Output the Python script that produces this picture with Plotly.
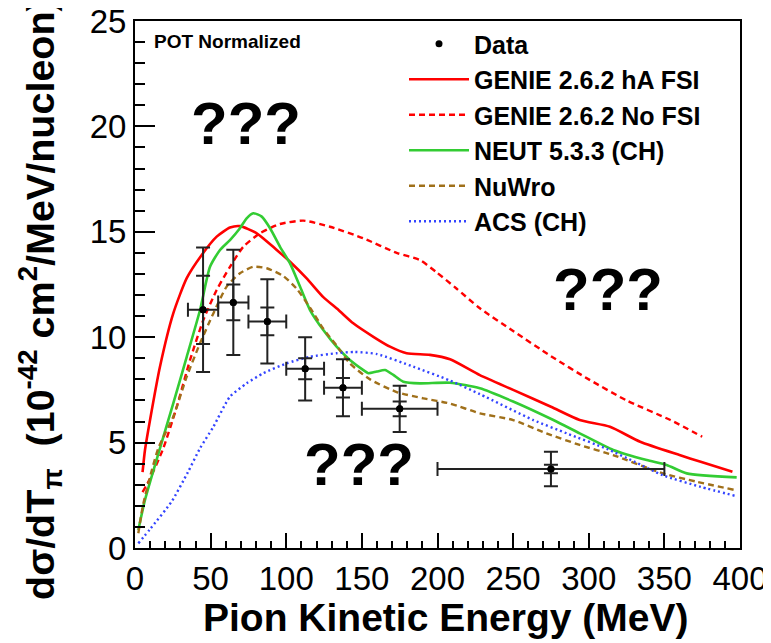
import plotly.graph_objects as go

# ---- data ----
data_x = [45, 65, 87.5, 112.5, 137.5, 175, 275]
data_y = [11.3, 11.65, 10.75, 8.5, 7.6, 6.6, 3.75]
data_xerr = [10, 10, 12.5, 12.5, 12.5, 25, 75]
data_err_tot = [2.95, 2.5, 2.0, 1.5, 1.35, 1.1, 0.82]
data_err_stat = [1.62, 0.85, 0.66, 0.5, 0.46, 0.35, 0.2]

genie_ha_x = [5, 6.6, 10, 16.5, 25.3, 34.2, 44.1, 54, 62.8, 69.4, 80.5, 93.7, 102.5, 113.5, 124.5, 134.4,
              144.3, 157.6, 168.6, 179.6, 195, 208.3, 228, 250, 275, 294, 314, 334, 360, 374, 395]
genie_ha_y = [3.6, 4.65, 6.1, 8.6, 11.13, 12.8, 13.9, 14.77, 15.2, 15.27, 14.93, 14.14, 13.58, 12.79, 11.9, 11.3,
              10.66, 10.02, 9.55, 9.24, 9.16, 8.95, 8.2, 7.5, 6.7, 6.07, 5.75, 5.04, 4.41, 4.09, 3.62]

genie_nofsi_x = [5, 10, 18.7, 27.6, 36.4, 45.2, 54, 62.8, 71.6, 82.6, 95.9, 111.3, 128.9, 151, 173, 188.4,
                 199.5, 212.7, 228, 250, 275, 300, 325, 354, 375]
genie_nofsi_y = [2.65, 3.3, 4.73, 6.7, 8.92, 10.82, 12.24, 13.34, 14.29, 14.93, 15.37, 15.53, 15.24, 14.69, 14.0, 13.66,
                 13.07, 12.3, 11.37, 10.3, 9.1, 8.0, 7.0, 6.07, 5.28]

neut_x = [2.2, 6.6, 16.5, 25.3, 34.2, 43, 49.6, 56.2, 62.8, 69.4, 73.8, 78.2, 83.8, 89.3, 95.9, 102.5, 109.1,
          115.7, 124.5, 133.3, 142.1, 151, 154.3, 159.8, 165.3, 170.8, 177.4, 188.4, 208.3, 228, 250, 276.6,
          294, 316.2, 338.3, 351.5, 364.8, 397.8]
neut_y = [0.85, 2.28, 4.73, 6.86, 9.07, 11.29, 13.34, 14.14, 14.61, 15.17, 15.64, 15.88, 15.72, 15.17, 14.29, 13.5, 12.4,
          11.29, 10.34, 9.55, 8.92, 8.44, 8.29, 8.37, 8.44, 8.21, 7.89, 7.81, 7.84, 7.58, 6.95, 6.07,
          5.44, 4.65, 4.17, 3.94, 3.54, 3.35]

nuwro_x = [2.2, 5.5, 15.4, 25.3, 34.2, 43, 51.8, 60.6, 69.4, 78.2, 87.1, 98.1, 106.9, 115.7, 124.5, 133.3,
           142.1, 155.4, 173, 190.6, 208.3, 228, 250, 272, 294, 316, 349, 371, 396.7]
nuwro_y = [0.7, 2.1, 4.73, 6.23, 8.13, 9.71, 11.13, 12.4, 13.03, 13.34, 13.27, 12.9, 12.3, 11.4, 10.4, 9.6,
           8.75, 8.0, 7.4, 7.1, 6.85, 6.39, 6.07, 5.44, 4.89, 4.41, 3.54, 3.15, 2.75]

acs_x = [2.2, 10, 24.2, 35, 43, 51.8, 62.8, 73.8, 84.8, 100.3, 115.7, 133.3, 145, 160, 184, 208, 228,
         263.3, 285.4, 312, 330, 349, 374, 398]
acs_y = [0.22, 0.9, 2.2, 3.6, 4.73, 5.75, 7.18, 7.81, 8.29, 8.76, 9.07, 9.24, 9.3, 9.2, 8.6, 7.95, 7.3,
         6.07, 5.44, 4.7, 4.1, 3.45, 2.9, 2.45]

x_ticks = [0, 50, 100, 150, 200, 250, 300, 350, 400]
y_ticks = [0, 5, 10, 15, 20, 25]

LEG = ["Data", "GENIE 2.6.2 hA FSI", "GENIE 2.6.2 No FSI", "NEUT 5.3.3 (CH)", "NuWro", "ACS (CH)"]

fig = go.Figure()

fig.add_trace(go.Scatter(x=genie_ha_x, y=genie_ha_y, mode="lines", name=LEG[1], legendrank=2,
                         line=dict(color="#ff0000", width=2.6, shape="spline", smoothing=0.6)))
fig.add_trace(go.Scatter(x=genie_nofsi_x, y=genie_nofsi_y, mode="lines", name=LEG[2], legendrank=3,
                         line=dict(color="#ff0000", width=2.4, dash="6px,4px", shape="spline", smoothing=0.6)))
fig.add_trace(go.Scatter(x=neut_x, y=neut_y, mode="lines", name=LEG[3], legendrank=4,
                         line=dict(color="#33cc33", width=2.6, shape="spline", smoothing=0.6)))
fig.add_trace(go.Scatter(x=nuwro_x, y=nuwro_y, mode="lines", name=LEG[4], legendrank=5,
                         line=dict(color="#a0701a", width=2.4, dash="6px,4px", shape="spline", smoothing=0.6)))
fig.add_trace(go.Scatter(x=acs_x, y=acs_y, mode="lines", name=LEG[5], legendrank=6,
                         line=dict(color="#3344ff", width=2.4, dash="2px,3px", shape="spline", smoothing=0.6)))

# data: total error bars (legend entry) + statistical inner caps
fig.add_trace(go.Scatter(x=data_x, y=data_y, mode="markers", name=LEG[0], legendrank=1,
                         marker=dict(color="black", size=7),
                         error_x=dict(type="data", array=data_xerr, color="#222222", thickness=2, width=7),
                         error_y=dict(type="data", array=data_err_tot, color="#222222", thickness=2, width=7)))
fig.add_trace(go.Scatter(x=data_x, y=data_y, mode="markers", showlegend=False,
                         marker=dict(color="black", size=7),
                         error_y=dict(type="data", array=data_err_stat, color="#222222", thickness=2, width=7)))

axis_font = dict(family="Liberation Sans Narrow, Arial Narrow, sans-serif", size=33, color="black")

fig.update_xaxes(range=[0, 400], tickvals=x_ticks, ticktext=[str(v) for v in x_ticks],
                 ticks="inside", ticklen=15, tickwidth=1.5, tickcolor="black",
                 minor=dict(dtick=10, ticks="inside", ticklen=7, tickwidth=1.5, tickcolor="black"),
                 showline=True, linewidth=2, linecolor="black", mirror=True, automargin=False,
                 ticklabeloverflow="allow",
                 showgrid=False, zeroline=False, tickfont=axis_font)
fig.update_yaxes(range=[0, 25], tickvals=y_ticks, ticktext=[str(v) for v in y_ticks],
                 ticks="inside", ticklen=20, tickwidth=1.5, tickcolor="black",
                 minor=dict(dtick=1, ticks="inside", ticklen=10, tickwidth=1.5, tickcolor="black"),
                 showline=True, linewidth=2, linecolor="black", mirror=True, automargin=False,
                 ticklabeloverflow="allow",
                 showgrid=False, zeroline=False, tickfont=axis_font)

bold = "Liberation Sans, Arial, Helvetica, sans-serif"
annos = [
    dict(text="dσ/dT<sub>π</sub>  (10<sup>-42</sup> cm<sup>2</sup>/MeV/nucleon)", xref="paper", yref="paper",
         x=(40 - 135) / 605, y=(548 - 299) / 527, textangle=-90, showarrow=False,
         xanchor="center", yanchor="middle",
         font=dict(family=bold, size=39.5, color="black", weight="bold")),
    dict(text="Pion Kinetic Energy (MeV)", xref="paper", yref="paper", x=(445 - 135) / 605,
         y=(548 - 617) / 527,
         showarrow=False, xanchor="center", yanchor="middle",
         font=dict(family=bold, size=39, color="black", weight="bold")),
    dict(text="POT Normalized", xref="paper", yref="paper", x=(152 - 135) / 605, y=(548 - 42) / 527,
         showarrow=False, xanchor="left", yanchor="middle",
         font=dict(family=bold, size=19, color="black", weight="bold")),
]
for (qx, qy) in [(73.4, 20.14), (312.7, 12.24), (148.1, 3.96)]:
    annos.append(dict(text="???", x=qx, y=qy, xref="x", yref="y", showarrow=False,
                      xanchor="center", yanchor="middle",
                      font=dict(family=bold, size=60, color="black", weight="bold")))

# the page body has an 8px margin: the figure is sized to fit the 771x643 window
fig.update_layout(
    width=763, height=635, autosize=False,
    margin=dict(l=127, r=31, t=13, b=95, autoexpand=False),
    plot_bgcolor="white", paper_bgcolor="white",
    annotations=annos,
    legend=dict(x=(404 - 135) / 605, y=(548 - 21) / 527, xanchor="left", yanchor="top",
                bgcolor="rgba(0,0,0,0)", borderwidth=0, itemwidth=60,
                traceorder="normal",
                font=dict(family=bold, size=25, color="black", weight="bold")),
)

fig.write_html("out.html")
